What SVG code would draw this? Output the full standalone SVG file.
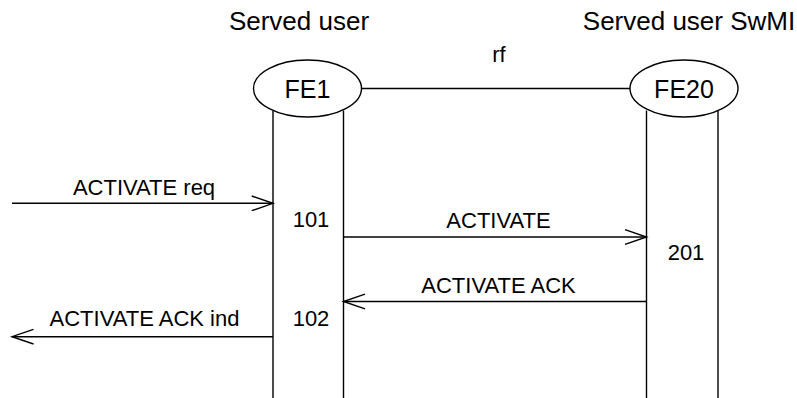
<svg xmlns="http://www.w3.org/2000/svg" width="797" height="398" viewBox="0 0 797 398">
<style>
text{font-family:"Liberation Sans",Arial,sans-serif;fill:#000}
.h{font-size:26px;text-anchor:middle}
.f{font-size:25px;text-anchor:middle}
.l{font-size:22px;text-anchor:middle}
.ln{stroke:#000;stroke-width:1.4;fill:none}
</style>
<rect width="797" height="398" fill="#fff"/>
<g id="headers">
<text class="h" x="299" y="30">Served user</text>
<text class="h" x="689" y="30">Served user SwMI</text>
</g>
<g id="FE1">
<ellipse class="ln" cx="307.5" cy="88.5" rx="54" ry="28.5"/>
<text class="f" x="307.5" y="97.5">FE1</text>
<line class="ln" x1="273" y1="110.5" x2="273" y2="398"/>
<line class="ln" x1="343.5" y1="110.5" x2="343.5" y2="398"/>
<text class="l" x="311" y="227">101</text>
<text class="l" x="311" y="325.5">102</text>
</g>
<g id="FE20">
<ellipse class="ln" cx="684" cy="88.5" rx="54" ry="28.5"/>
<text class="f" x="684" y="97.5">FE20</text>
<line class="ln" x1="646.5" y1="110.5" x2="646.5" y2="398"/>
<line class="ln" x1="718" y1="110.5" x2="718" y2="398"/>
<text class="l" x="686" y="260">201</text>
</g>
<g id="connectors">
<line class="ln" x1="361.5" y1="88.5" x2="630" y2="88.5"/>
<text class="l" x="499" y="62">rf</text>
<line class="ln" x1="12" y1="203.3" x2="273" y2="203.3"/>
<polyline class="ln" points="251.7,196 273,203.3 251.7,210.7"/>
<text class="l" x="144" y="195">ACTIVATE req</text>
<line class="ln" x1="343.5" y1="237" x2="646.5" y2="237"/>
<polyline class="ln" points="625,229.7 646.5,237 625,244.3"/>
<text class="l" x="498.5" y="228.3">ACTIVATE</text>
<line class="ln" x1="343.5" y1="301.5" x2="646.5" y2="301.5"/>
<polyline class="ln" points="365,294.2 343.5,301.5 365,308.8"/>
<text class="l" x="498.5" y="293">ACTIVATE ACK</text>
<line class="ln" x1="12" y1="336.7" x2="273" y2="336.7"/>
<polyline class="ln" points="33.5,329.4 12,336.7 33.5,344"/>
<text class="l" x="144.5" y="325.7">ACTIVATE ACK ind</text>
</g>
</svg>
